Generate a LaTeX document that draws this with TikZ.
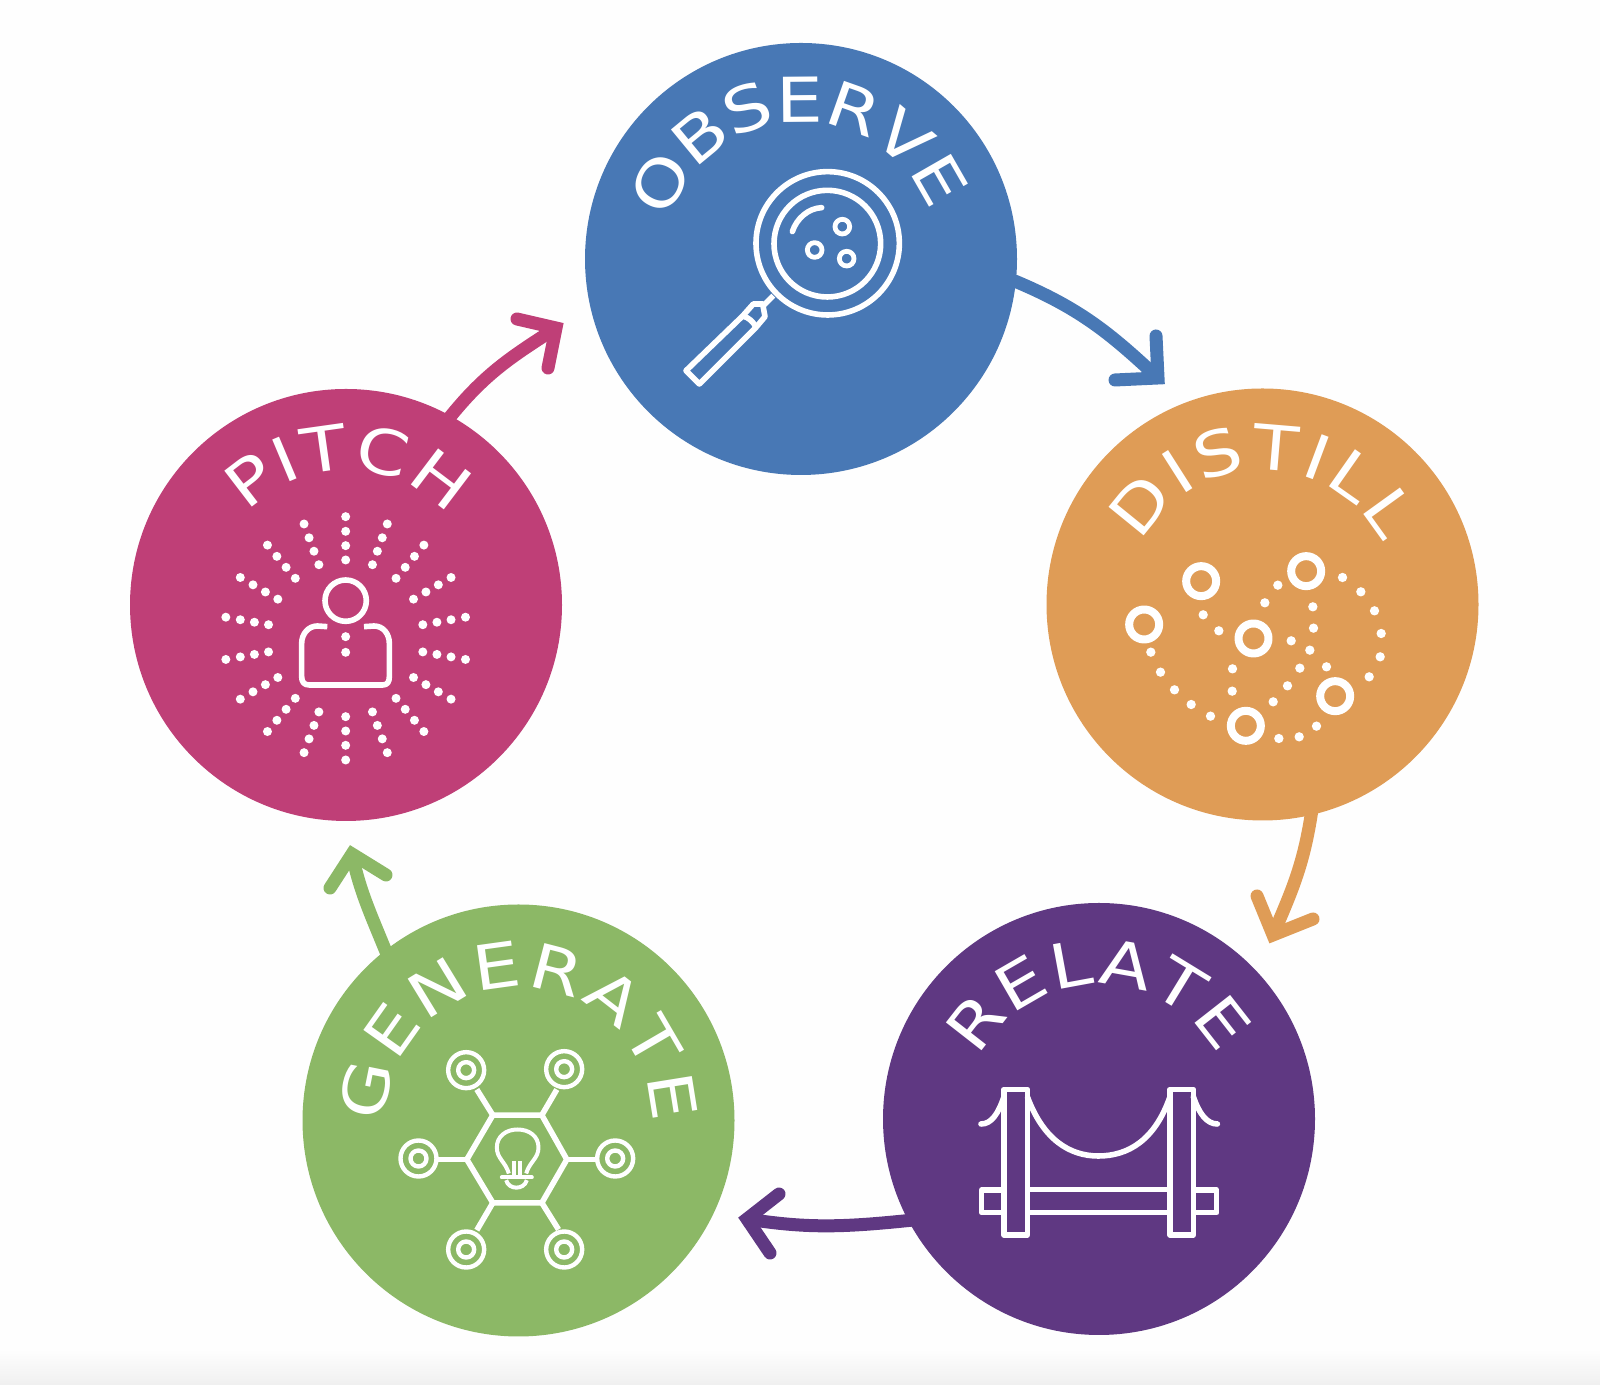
\documentclass[tikz,border=0pt]{standalone}
\usepackage{fontspec}
\usetikzlibrary{decorations.text}
\newfontfamily\capfont{DejaVu Sans}
\newcommand{\wordfont}{\capfont\fontsize{31}{31}\selectfont}
\newcommand{\widechar}[1]{\scalebox{1.2}[1]{#1}}

\definecolor{obsblue}{HTML}{4878B5}
\definecolor{disorange}{HTML}{DF9C56}
\definecolor{relpurple}{HTML}{5F3882}
\definecolor{gengreen}{HTML}{8CB866}
\definecolor{pitpink}{HTML}{BF3F77}

\tikzset{
    disc/.style={circle,draw=none,inner sep=0pt,minimum size=216pt},
    flow/.style={line width=6.5pt,shorten <=-5pt},
    barb/.style={line width=6.5pt,line cap=round,line join=miter},
    word/.style={decorate,decoration={text effects along path,text={#1},
      text effects/.cd,text along path,fit text to path,
      character command=\widechar,
      characters={font=\wordfont,text=white,inner sep=0pt}}},
    icon/.style 2 args={x=0.16667pt,y=-0.16667pt,shift={(-#1,-#2)},
      white,line width=2.8pt,line join=round}
}

\begin{document}
\begin{tikzpicture}[x=0.5pt,y=0.5pt]
    \useasboundingbox (0,0) rectangle (1600,1385);
    \fill[white!99.5!black] (0,0) rectangle (1600,1385);
    \shade[top color=white!99.5!black,bottom color=white!94!black] (0,0) rectangle (1600,35);

    \node[disc,fill=obsblue]   (observe)  at (801,1126)   {};
    \node[disc,fill=disorange] (distill)  at (1262.5,780.5) {};
    \node[disc,fill=relpurple] (relate)   at (1099,266)   {};
    \node[disc,fill=gengreen]  (generate) at (518.5,264.5) {};
    \node[disc,fill=pitpink]   (pitch)    at (346,780)    {};

    \coordinate (obstip) at (1158,1007);
    \coordinate (obsa)   at (1156,1049);
    \coordinate (obsb)   at (1115,1005);
    \coordinate (distip) at (1273,450);
    \coordinate (disa)   at (1257,489);
    \coordinate (disb)   at (1313,466);
    \coordinate (reltip) at (747,166);
    \coordinate (rela)   at (779,191);
    \coordinate (relb)   at (770,132);
    \coordinate (gentip) at (352,531);
    \coordinate (gena)   at (330,497);
    \coordinate (genb)   at (386,510);
    \coordinate (pittip) at (556,1057);
    \coordinate (pita)   at (517,1066);
    \coordinate (pitb)   at (548,1017);

    \draw[flow,obsblue]   (observe.-6)   to[out=-22,in=137] (obstip);
    \draw[barb,obsblue]   (obsa) -- (obstip) -- (obsb);
    \draw[flow,disorange] (distill.-77)  to[out=-98,in=67]  (distip);
    \draw[barb,disorange] (disa) -- (distip) -- (disb);
    \draw[flow,relpurple] (relate.208)   to[out=186,in=-9]  (reltip);
    \draw[barb,relpurple] (rela) -- (reltip) -- (relb);
    \draw[flow,gengreen]  (generate.128) to[out=112,in=-78] (gentip);
    \draw[barb,gengreen]  (gena) -- (gentip) -- (genb);
    \draw[flow,pitpink]   (pitch.61)     to[out=52,in=213]  (pittip);
    \draw[barb,pitpink]   (pita) -- (pittip) -- (pitb);

    \path[word=OBSERVE]  (observe)  ++(164:137) arc[start angle=164,end angle=20,radius=137];
    \path[word=DISTILL]  (distill)  ++(153:135) arc[start angle=153,end angle=27,radius=135];
    \path[word=RELATE]   (relate)   ++(153:134) arc[start angle=153,end angle=28,radius=134];
    \path[word=GENERATE] (generate) ++(181:133) arc[start angle=181,end angle=-1,radius=133];
    \path[word=PITCH]    (pitch)    ++(137:135) arc[start angle=137,end angle=41,radius=135];

    % magnifier
    \begin{scope}[shift={(observe.center)},icon={663}{687}]
      \draw (743,640) circle[radius=215];
      \draw (742,641) circle[radius=160];
      \draw[line cap=round] (637,605) .. controls (650,565) and (685,535) .. (725,533);
      \foreach \x/\y in {787/590,704/660,800/686}
        \draw[line width=2.4pt] (\x,\y) circle[radius=22];
      \draw (488,858) -- (318,1022) -- (358,1062) -- (528,892) -- (555,860)
        -- (548,822) -- (520,822) -- cycle;
      \draw (488,858) .. controls (505,862) and (520,875) .. (528,892);
      \draw (552,825) -- (580,797);
    \end{scope}

    % dotted paths
    \begin{scope}[shift={(distill.center)},icon={667}{673}]
      \foreach \x/\y in {483/603,312/733,640/775,798/573,885/948,617/1037}
        \draw[line width=4pt] (\x,\y) circle[radius=45];
      \foreach \x/\y in {907/592,962/635,1003/692,1023/760,1020/830,987/890,829/1038,
        777/1070,716/1075,713/615,674/668,818/680,820/744,753/782,809/810,859/860,
        779/864,742/917,699/965,577/866,576/933,489/704,536/752,332/816,361/876,
        403/929,453/973,511/1008}
        \fill (\x,\y) circle[radius=14];
    \end{scope}

    % bridge
    \begin{scope}[shift={(relate.center)},icon={657}{657}]
      \draw (372,568) rectangle (442,1005);
      \draw (870,568) rectangle (940,1005);
      \draw (372,870) -- (305,870) -- (305,938) -- (372,938);
      \draw (442,868) -- (870,868);
      \draw (442,938) -- (870,938);
      \draw (940,870) -- (1010,870) -- (1010,938) -- (940,938);
      \draw (442,590) .. controls (490,720) and (570,768) .. (655,768)
        .. controls (745,768) and (825,720) .. (870,590);
      \draw[line cap=round] (372,590) .. controls (355,640) and (335,672) .. (303,672);
      \draw[line cap=round] (940,590) .. controls (957,640) and (980,672) .. (1012,672);
    \end{scope}

    % bulb and hexagon
    \begin{scope}[shift={(generate.center)},icon={655}{661}]
      \draw (800,778) -- (725,645) -- (578,645) -- (500,778) -- (578,908) -- (725,908) -- cycle;
      \foreach \x/\y in {498/510,792/507,355/775,945/775,498/1048,792/1048} {
        \draw[line width=2.2pt] (\x,\y) circle[radius=54];
        \draw[line width=2.2pt] (\x,\y) circle[radius=24];
      }
      \draw (725,645) -- (770,568);
      \draw (578,645) -- (530,568);
      \draw (500,778) -- (410,778);
      \draw (800,778) -- (890,778);
      \draw (578,908) -- (530,990);
      \draw (725,908) -- (775,988);
      \draw[line width=2pt] (626,820) .. controls (616,785) and (590,775) .. (590,742)
        .. controls (590,708) and (618,688) .. (652,688)
        .. controls (687,688) and (715,708) .. (715,742)
        .. controls (715,775) and (688,785) .. (678,820);
      \draw[line width=2pt,line cap=round] (605,832) -- (695,832);
      \draw[line width=2pt] (618,840) .. controls (625,870) and (672,870) .. (680,840);
      \draw[line width=2pt] (641,782) -- (641,828);
      \draw[line width=2pt] (658,782) -- (658,828);
    \end{scope}

    % person and rays
    \begin{scope}[shift={(pitch.center)},icon={678}{675}]
      \draw (677,662) circle[radius=62];
      \draw (622,740) -- (592,738) .. controls (565,738) and (545,762) .. (545,790)
        -- (545,890) .. controls (545,906) and (552,915) .. (568,915) -- (788,915)
        .. controls (802,915) and (808,906) .. (808,890) -- (808,790)
        .. controls (808,762) and (790,738) .. (762,738) -- (732,740);
      \foreach \y in {770,817}
        \fill (677,\y) circle[radius=13.5];
      \foreach \a in {10,30,...,350}
        \foreach \r in {235,278,321,365}
          \fill ({677+\r*cos(\a)},{775+\r*sin(\a)}) circle[radius=13.5];
    \end{scope}
\end{tikzpicture}
\end{document}
